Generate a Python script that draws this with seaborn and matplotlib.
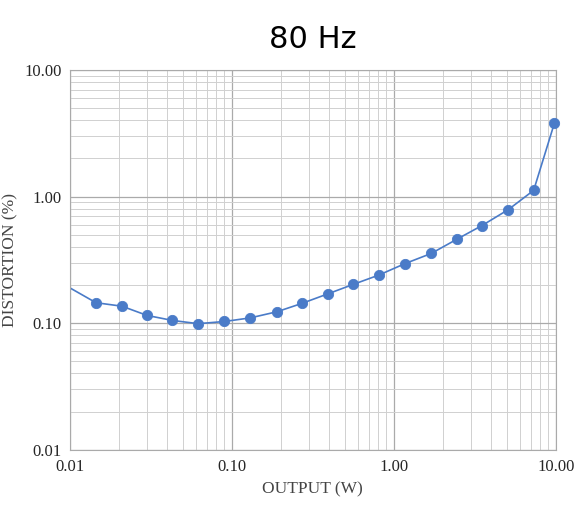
import numpy as np
import pandas as pd
import seaborn as sns
import matplotlib.pyplot as plt
from matplotlib.ticker import LogLocator, FixedLocator, FixedFormatter

# Data
output_w = [0.0145, 0.021, 0.030, 0.043, 0.062, 0.090, 0.13, 0.19, 0.27,
            0.39, 0.56, 0.81, 1.17, 1.7, 2.45, 3.5, 5.1, 7.3, 9.8]
distortion = [0.145, 0.136, 0.115, 0.105, 0.099, 0.103, 0.110, 0.123, 0.143,
              0.170, 0.202, 0.240, 0.295, 0.355, 0.460, 0.590, 0.790, 1.12, 3.80]
line_x = [0.01] + output_w
line_y = [0.19] + distortion
tick_vals = [0.01, 0.1, 1, 10]
tick_labels = ["0.01", "0.10", "1.00", "10.00"]

df = pd.DataFrame({"x": output_w, "y": distortion})
line_df = pd.DataFrame({"x": line_x, "y": line_y})

sns.set_style("white")
fig, ax = plt.subplots(figsize=(5.82, 5.11), dpi=100)
fig.subplots_adjust(left=0.12, right=0.955, top=0.863, bottom=0.12)

color = "#4a7bc8"
sns.lineplot(data=line_df, x="x", y="y", ax=ax, color=color, linewidth=1.2)
sns.scatterplot(data=df, x="x", y="y", ax=ax, color=color, s=55, edgecolor=color,
                zorder=3, clip_on=False)

ax.set_xscale("log")
ax.set_yscale("log")
ax.set_xlim(0.01, 10)
ax.set_ylim(0.01, 10)
for axis in (ax.xaxis, ax.yaxis):
    axis.set_major_locator(FixedLocator(tick_vals))
    axis.set_major_formatter(FixedFormatter(tick_labels))
    axis.set_minor_locator(LogLocator(base=10, subs=np.arange(2, 10)))
ax.grid(True, which="major", color="#aaaaaa", linewidth=0.9)
ax.grid(True, which="minor", color="#d0d0d0", linewidth=0.7)
for s in ax.spines.values():
    s.set_color("#aaaaaa")
ax.tick_params(which="both", length=0)
ax.tick_params(axis="x", pad=7)
ax.tick_params(axis="y", pad=6)

serif = "Liberation Serif"
for lab in ax.get_xticklabels() + ax.get_yticklabels():
    lab.set_fontfamily(serif)
    lab.set_fontsize(12)
ax.set_xlabel("OUTPUT (W)", fontfamily=serif, fontsize=12.5, color="#444444")
ax.set_ylabel("DISTORTION (%)", fontfamily=serif, fontsize=12.5, color="#444444")
ax.set_title("80 Hz", fontsize=22, pad=16, fontfamily="DejaVu Sans", color="black")

fig.savefig("out.png", dpi=100)
